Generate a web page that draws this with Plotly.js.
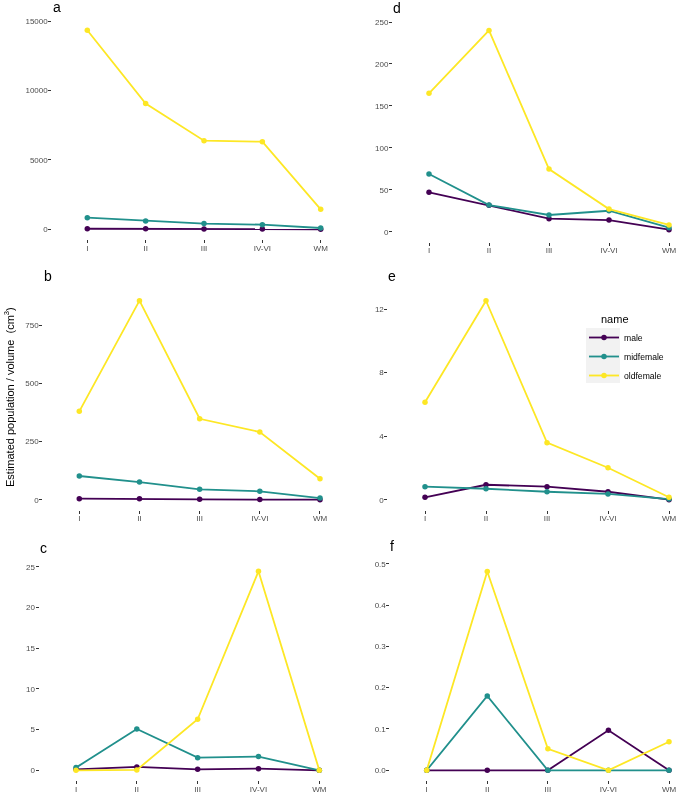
<!DOCTYPE html>
<html>
<head>
<meta charset="utf-8">
<script src="https://cdn.plot.ly/plotly-3.0.1.min.js"></script>
<style>
  html, body { margin: 0; padding: 0; background: #fff; }
  #chart { width: 676px; height: 793px; will-change: transform; }
</style>
</head>
<body>
<div id="chart"></div>
<script>
var W = 676, H = 793;

var layers = ['I', 'II', 'III', 'IV-VI', 'WM'];
var groups = ['male', 'midfemale', 'oldfemale'];
var colors = ['#440154', '#21908C', '#FDE725'];

// panel a
var aMale = [40, 35, 20, 15, 5];
var aMid = [840, 600, 410, 335, 95];
var aOld = [14330, 9050, 6380, 6310, 1440];
// panel b
var bMale = [4.3, 4.3, 1.4, 0.5, 0];
var bMid = [102, 76, 44.5, 36, 7];
var bOld = [380, 856, 348, 291, 90];
// panel c
var cMale = [0.12, 0.41, 0.12, 0.2, 0];
var cMid = [0.33, 5.07, 1.55, 1.68, 0];
var cOld = [0, 0.05, 6.26, 24.43, 0];
// panel d
var dMale = [46.9, 31.5, 15.5, 13.9, 2.4];
var dMid = [68.8, 31.8, 19.9, 25, 4.8];
var dOld = [165, 240, 74.7, 27, 8];
// panel e
var eMale = [0.15, 0.94, 0.82, 0.5, 0];
var eMid = [0.82, 0.69, 0.5, 0.36, 0.04];
var eOld = [6.13, 12.52, 3.59, 2.01, 0.15];
// panel f
var fMale = [0, 0, 0, 0.097, 0];
var fMid = [0, 0.18, 0, 0, 0];
var fOld = [0, 0.481, 0.052, 0, 0.069];

var panelData = [
    [aMale, aMid, aOld],
    [bMale, bMid, bOld],
    [cMale, cMid, cOld],
    [dMale, dMid, dOld],
    [eMale, eMid, eOld],
    [fMale, fMid, fOld]
];
var panelLetters = ['a', 'b', 'c', 'd', 'e', 'f'];
var panelTicks = [
    [0, 5000, 10000, 15000],
    [0, 250, 500, 750],
    [0, 5, 10, 15, 20, 25],
    [0, 50, 100, 150, 200, 250],
    [0, 4, 8, 12],
    [0, 0.1, 0.2, 0.3, 0.4, 0.5]
];
var panelTickText = [
    null, null, null, null, null,
    ['0.0', '0.1', '0.2', '0.3', '0.4', '0.5']
];

// pixel placement of each panel: x of "I", x of "WM", y of 0, y of a ref tick + its value, y range
var geom = [
    { xI: 87.3, xW: 320.7, p0: 229.3, p1: 21, v1: 15000, lo: -716, hi: 15046, lx: 56.5, ly: 7 },
    { xI: 79.3, xW: 320, p0: 499.7, p1: 325.3, v1: 750, lo: -43, hi: 899, lx: 48, ly: 276 },
    { xI: 76, xW: 319.3, p0: 770.3, p1: 566.7, v1: 25, lo: -1.22, hi: 25.65, lx: 43, ly: 548 },
    { xI: 429, xW: 669, p0: 231.7, p1: 22, v1: 250, lo: -12, hi: 252, lx: 397, ly: 7.5 },
    { xI: 425, xW: 669, p0: 499.7, p1: 309, v1: 12, lo: -0.63, hi: 13.15, lx: 392, ly: 276 },
    { xI: 426.7, xW: 669, p0: 770.3, p1: 563.7, v1: 0.5, lo: -0.024, hi: 0.505, lx: 392, ly: 546 }
];

// ggplot-like discrete padding of 0.6 category on each side, clipped at the page edge
let xSpan = (g) => {
    let u = (g.xW - g.xI) / 4;
    let left = g.xI - 0.6 * u;
    let right = Math.min(W, g.xW + 0.6 * u);
    return { domain: [left / W, right / W], range: [-0.6, (right - g.xI) / u] };
}

let yDomain = (g) => {
    let k = (g.p0 - g.p1) / g.v1;
    let top = g.p0 - g.hi * k;
    let bot = g.p0 - g.lo * k;
    return [1 - bot / H, 1 - top / H];
}

let tickFont = () => ({ family: 'Liberation Sans, Arial, sans-serif', size: 8, color: '#4D4D4D' });

var traces = [];
var layout = {
    width: W,
    height: H,
    margin: { l: 0, r: 0, t: 0, b: 0 },
    paper_bgcolor: '#fff',
    plot_bgcolor: '#fff',
    showlegend: true,
    font: { family: 'Liberation Sans, Arial, sans-serif' },
    legend: {
        x: 584 / W,
        y: 1 - 323 / H,
        xanchor: 'left',
        yanchor: 'top',
        bgcolor: 'rgba(0,0,0,0)',
        font: { size: 8.6, color: '#000' },
        itemwidth: 30,
        tracegroupgap: 0
    },
    annotations: [],
    shapes: []
};

panelData.forEach((series, p) => {
    let n = p === 0 ? '' : String(p + 1);
    let g = geom[p];
    let xs = xSpan(g);
    series.forEach((vals, s) => {
        traces.push({
            x: layers,
            y: vals,
            xaxis: 'x' + n,
            yaxis: 'y' + n,
            type: 'scatter',
            mode: 'lines+markers',
            name: groups[s],
            legendgroup: groups[s],
            showlegend: p === 0,
            line: { color: colors[s], width: 1.8 },
            marker: { color: colors[s], size: 5.5 },
            cliponaxis: false
        });
    });
    layout['xaxis' + n] = {
        domain: xs.domain,
        anchor: 'y' + n,
        type: 'category',
        categoryarray: layers,
        range: xs.range,
        showgrid: false,
        zeroline: false,
        showline: false,
        ticks: 'outside',
        ticklen: 3,
        tickcolor: '#333333',
        tickwidth: 1,
        ticklabelstandoff: -2,
        tickfont: tickFont(),
        automargin: false
    };
    layout['yaxis' + n] = {
        domain: yDomain(g),
        anchor: 'x' + n,
        range: [g.lo, g.hi],
        tickvals: panelTicks[p],
        ticktext: panelTickText[p] || panelTicks[p].map(String),
        showgrid: false,
        zeroline: false,
        showline: false,
        ticks: 'outside',
        ticklen: 3,
        tickcolor: '#333333',
        tickwidth: 1,
        ticklabelstandoff: -1,
        tickfont: tickFont(),
        automargin: false
    };
    layout.annotations.push({
        text: panelLetters[p],
        xref: 'paper', yref: 'paper',
        x: g.lx / W, y: 1 - g.ly / H,
        xanchor: 'center', yanchor: 'middle',
        borderpad: 0,
        showarrow: false,
        font: { size: 14, color: '#000' }
    });
});

layout.annotations.push({
    text: 'Estimated population / volume  (cm<sup>3</sup>)',
    xref: 'paper', yref: 'paper',
    x: 9 / W, y: 1 - 397 / H,
    xanchor: 'center', yanchor: 'middle',
    textangle: -90,
    showarrow: false,
    font: { size: 11, color: '#000' }
});

// legend title, placed like ggplot's
layout.annotations.push({
    text: 'name',
    xref: 'paper', yref: 'paper',
    x: 599 / W, y: 1 - 318.5 / H,
    xanchor: 'left', yanchor: 'middle',
    showarrow: false,
    font: { size: 11, color: '#000' }
});

// grey legend key background
layout.shapes.push({
    type: 'rect', xref: 'paper', yref: 'paper', layer: 'below',
    x0: 586 / W, x1: 620 / W, y0: 1 - 383 / H, y1: 1 - 328 / H,
    fillcolor: '#F2F2F2', line: { width: 0 }
});

Plotly.newPlot('chart', traces, layout, { displayModeBar: false, staticPlot: true });
</script>
</body>
</html>
